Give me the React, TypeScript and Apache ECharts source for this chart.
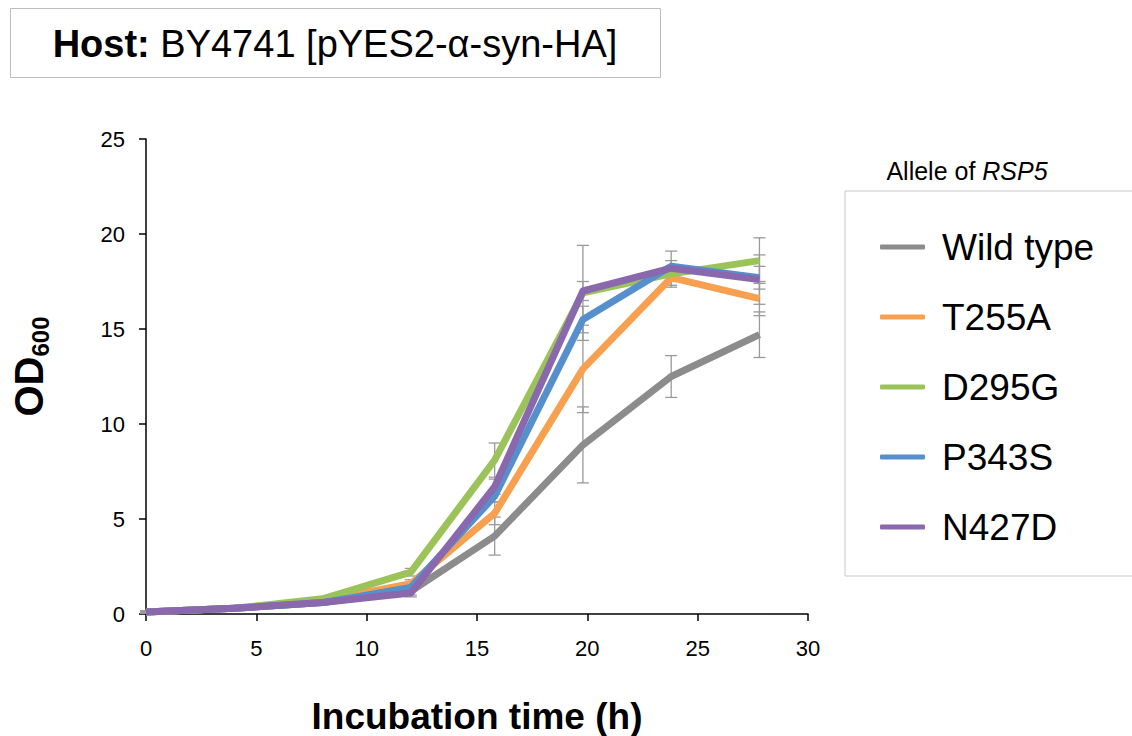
import React, { useEffect, useRef } from "react";
import * as echarts from "echarts";

const times = [0, 4, 8, 12, 15.8, 19.8, 23.8, 27.8];
const seriesNames = ["Wild type", "T255A", "D295G", "P343S", "N427D"];
const wildType = [0.1, 0.3, 0.6, 1.2, 4.1, 8.9, 12.5, 14.7];
const t255a = [0.1, 0.3, 0.7, 1.6, 5.3, 12.9, 17.7, 16.6];
const d295g = [0.1, 0.3, 0.8, 2.2, 8.1, 16.9, 17.9, 18.6];
const p343s = [0.1, 0.3, 0.6, 1.4, 6.2, 15.5, 18.3, 17.7];
const n427d = [0.1, 0.3, 0.6, 1.1, 6.7, 17.0, 18.2, 17.6];
const sdWildType = [0.05, 0.05, 0.1, 0.2, 1.0, 2.0, 1.1, 1.2];
const sdT255a = [0.05, 0.05, 0.1, 0.2, 0.6, 2.3, 0.5, 0.9];
const sdD295g = [0.05, 0.05, 0.1, 0.2, 0.9, 2.5, 0.4, 1.2];
const sdP343s = [0.05, 0.05, 0.1, 0.2, 0.3, 0.7, 0.3, 0.6];
const sdN427d = [0.05, 0.05, 0.1, 0.2, 0.4, 0.5, 0.9, 1.3];
const xTicks = [0, 5, 10, 15, 20, 25, 30];
const yTicks = [0, 5, 10, 15, 20, 25];

const values = [wildType, t255a, d295g, p343s, n427d];
const sds = [sdWildType, sdT255a, sdD295g, sdP343s, sdN427d];
const colors = ["#8c8c8c", "#f7a04f", "#9cc35a", "#5590cc", "#8a68ae"];

export default function App() {
  const ref = useRef<HTMLDivElement>(null);
  useEffect(() => {
    if (!ref.current) return;
    const chart = echarts.init(ref.current, undefined, { renderer: "svg" });
    const font = "Liberation Sans, Arial, sans-serif";

    const errorSeries = values.map((vals, si) => ({
      type: "custom",
      name: seriesNames[si] + " SD",
      z: 1,
      silent: true,
      data: times.map((t, i) => [t, vals[i] - sds[si][i], vals[i] + sds[si][i]]),
      renderItem: (params: any, api: any) => {
        const x = api.value(0);
        const lo = api.coord([x, api.value(1)]);
        const hi = api.coord([x, api.value(2)]);
        const hw = 6;
        const style = { stroke: "#9a9a9a", lineWidth: 1.3 };
        return {
          type: "group",
          children: [
            { type: "line", shape: { x1: lo[0], y1: lo[1], x2: hi[0], y2: hi[1] }, style },
            { type: "line", shape: { x1: lo[0] - hw, y1: lo[1], x2: lo[0] + hw, y2: lo[1] }, style },
            { type: "line", shape: { x1: hi[0] - hw, y1: hi[1], x2: hi[0] + hw, y2: hi[1] }, style },
          ],
        };
      },
    }));

    const lineSeries = values.map((vals, si) => ({
      type: "line",
      name: seriesNames[si],
      z: 2 + si,
      data: times.map((t, i) => [t, vals[i]]),
      showSymbol: false,
      symbol: "none",
      lineStyle: { color: colors[si], width: 7, join: "round" },
      itemStyle: { color: colors[si] },
    }));

    chart.setOption({
      animation: false,
      backgroundColor: "#ffffff",
      textStyle: { fontFamily: font },
      grid: { left: 146, top: 139, width: 662, height: 475, containLabel: false, outerBoundsMode: "none" },
      xAxis: {
        type: "value",
        min: xTicks[0],
        max: xTicks[xTicks.length - 1],
        interval: 5,
        name: "Incubation time (h)",
        nameLocation: "middle",
        nameGap: 82,
        nameTextStyle: { fontSize: 37, fontWeight: "bold", color: "#000", fontFamily: font, lineHeight: 40 },
        axisLine: { lineStyle: { color: "#000", width: 1.5 } },
        axisTick: { show: true, length: 7, lineStyle: { color: "#000", width: 1.5 } },
        axisLabel: { fontSize: 22, color: "#000", margin: 23, fontFamily: font },
        splitLine: { show: false },
      },
      yAxis: {
        type: "value",
        min: yTicks[0],
        max: yTicks[yTicks.length - 1],
        interval: 5,
        name: "{od|OD}{sub|600}",
        nameLocation: "middle",
        nameRotate: 90,
        nameGap: 94,
        nameTextStyle: {
          padding: [0, 0, 0, 20],
          rich: {
            od: { fontSize: 40, fontWeight: "bold", color: "#000", fontFamily: font, lineHeight: 46 },
            sub: { fontSize: 24, fontWeight: "bold", color: "#000", fontFamily: font, lineHeight: 24, verticalAlign: "bottom" },
          },
        },
        axisLine: { show: true, lineStyle: { color: "#000", width: 1.5 } },
        axisTick: { show: true, length: 7, lineStyle: { color: "#000", width: 1.5 } },
        axisLabel: { fontSize: 22, color: "#000", margin: 21, fontFamily: font },
        splitLine: { show: false },
      },
      legend: {
        data: seriesNames,
        orient: "vertical",
        left: 845,
        top: 191,
        padding: [35, 70, 28, 35],
        itemGap: 28,
        itemWidth: 45,
        itemHeight: 5,
        icon: "roundRect",
        borderColor: "#c8c8c8",
        borderWidth: 1,
        textStyle: { fontSize: 37, color: "#000", fontFamily: font, lineHeight: 42, padding: [0, 0, 0, 12] },
      },
      graphic: [
        {
          type: "rect",
          left: 10,
          top: 8,
          shape: { width: 650, height: 69 },
          style: { fill: "#fff", stroke: "#bdbdbd", lineWidth: 1 },
        },
        {
          type: "text",
          x: 335,
          y: 44,
          style: {
            text: "{b|Host: }{n|BY4741 [pYES2-α-syn-HA]}",
            align: "center",
            verticalAlign: "middle",
            rich: {
              b: { fontSize: 38, fontWeight: "bold", fill: "#000", fontFamily: font },
              n: { fontSize: 38, fill: "#000", fontFamily: font },
            },
          },
        },
        {
          type: "text",
          x: 967,
          y: 171,
          style: {
            text: "{n|Allele of }{i|RSP5}",
            align: "center",
            verticalAlign: "middle",
            rich: {
              n: { fontSize: 25, fill: "#000", fontFamily: font },
              i: { fontSize: 25, fill: "#000", fontStyle: "italic", fontFamily: font },
            },
          },
        },
      ],
      series: [...errorSeries, ...lineSeries],
    });
    return () => chart.dispose();
  }, []);
  return (
    <div
      ref={ref}
      style={{ position: "fixed", left: 0, top: 0, width: 1132, height: 736, background: "#fff" }}
    />
  );
}
